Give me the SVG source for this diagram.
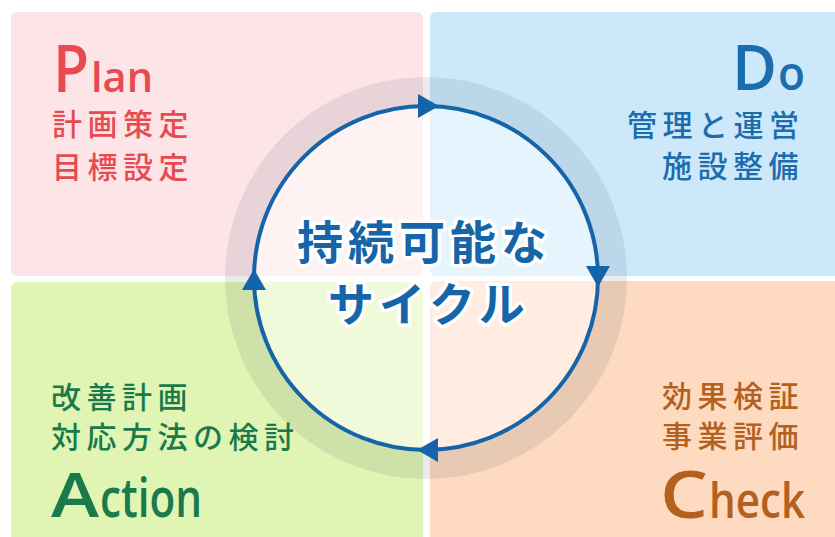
<svg xmlns="http://www.w3.org/2000/svg" width="835" height="537" viewBox="0 0 835 537">
<defs>
<style>
.jp{font-family:"Noto Sans CJK JP","Noto Sans CJK SC",sans-serif;font-size:30px;letter-spacing:5.5px;font-weight:500}
.lat{font-family:"Open Sans","Noto Sans",sans-serif;font-weight:600}
.red{fill:#e84a52}
.blue{fill:#1b6dad}
.green{fill:#1b7a4c}
.brown{fill:#b4601f}
.ctr{font-family:"Noto Sans CJK JP","Noto Sans CJK SC",sans-serif;font-weight:bold;font-size:46px;letter-spacing:5px;fill:#1565a8;stroke:#ffffff;stroke-width:7px;stroke-linejoin:round;paint-order:stroke}
.arr{fill:#1464aa}
</style>
</defs>
<rect width="835" height="537" fill="#ffffff"/>
<g id="plan">
<rect x="11" y="12" width="412" height="264" rx="6" fill="#fde5e7"/>
<text class="lat red" x="53" y="92" font-size="66" textLength="36" lengthAdjust="spacingAndGlyphs">P</text>
<text class="lat red" x="91" y="92" font-size="41" textLength="62" lengthAdjust="spacingAndGlyphs">lan</text>
<text class="jp red" x="52" y="135">計画策定</text>
<text class="jp red" x="52" y="178">目標設定</text>
</g>
<g id="do">
<rect x="430" y="12" width="415" height="264" rx="6" fill="#cde8fb"/>
<text class="lat blue" x="732" y="90" font-size="63" textLength="45" lengthAdjust="spacingAndGlyphs">D</text>
<text class="lat blue" x="778" y="90" font-size="47" textLength="27" lengthAdjust="spacingAndGlyphs">o</text>
<text class="jp blue" x="627" y="136">管理と運営</text>
<text class="jp blue" x="662" y="177">施設整備</text>
</g>
<g id="action">
<rect x="11" y="282" width="412" height="265" rx="6" fill="#e0f4b4"/>
<text class="jp green" x="51" y="408">改善計画</text>
<text class="jp green" x="51" y="448">対応方法の検討</text>
<text class="lat green" x="51" y="517" font-size="62" textLength="48" lengthAdjust="spacingAndGlyphs">A</text>
<text class="lat green" x="100" y="517" font-size="54" textLength="102" lengthAdjust="spacingAndGlyphs">ction</text>
</g>
<g id="check">
<rect x="430" y="281" width="415" height="266" rx="6" fill="#fddac0"/>
<text class="jp brown" x="662" y="407">効果検証</text>
<text class="jp brown" x="662" y="447">事業評価</text>
<text class="lat brown" x="660" y="518" font-size="66" textLength="48" lengthAdjust="spacingAndGlyphs">C</text>
<text class="lat brown" x="709" y="518" font-size="48" textLength="96" lengthAdjust="spacingAndGlyphs">heck</text>
</g>
<g id="cycle">
<circle cx="426" cy="278" r="186.5" fill="none" stroke="#1a2040" stroke-opacity="0.09" stroke-width="29"/>
<circle cx="426" cy="278" r="172" fill="#ffffff" fill-opacity="0.5"/>
</g>
<g id="connectors">
<circle cx="426" cy="278" r="172" fill="none" stroke="#1464aa" stroke-width="4"/>
<polygon class="arr" points="418,94 418,118 439,106"/>
<polygon class="arr" points="586,266 610,266 598,287"/>
<polygon class="arr" points="438,438 438,462 417,450"/>
<polygon class="arr" points="242,290 266,290 254,269"/>
</g>
<g id="center">
<text class="ctr" x="297" y="259">持続可能な</text>
<text class="ctr" x="328" y="321">サイクル</text>
</g>
</svg>
